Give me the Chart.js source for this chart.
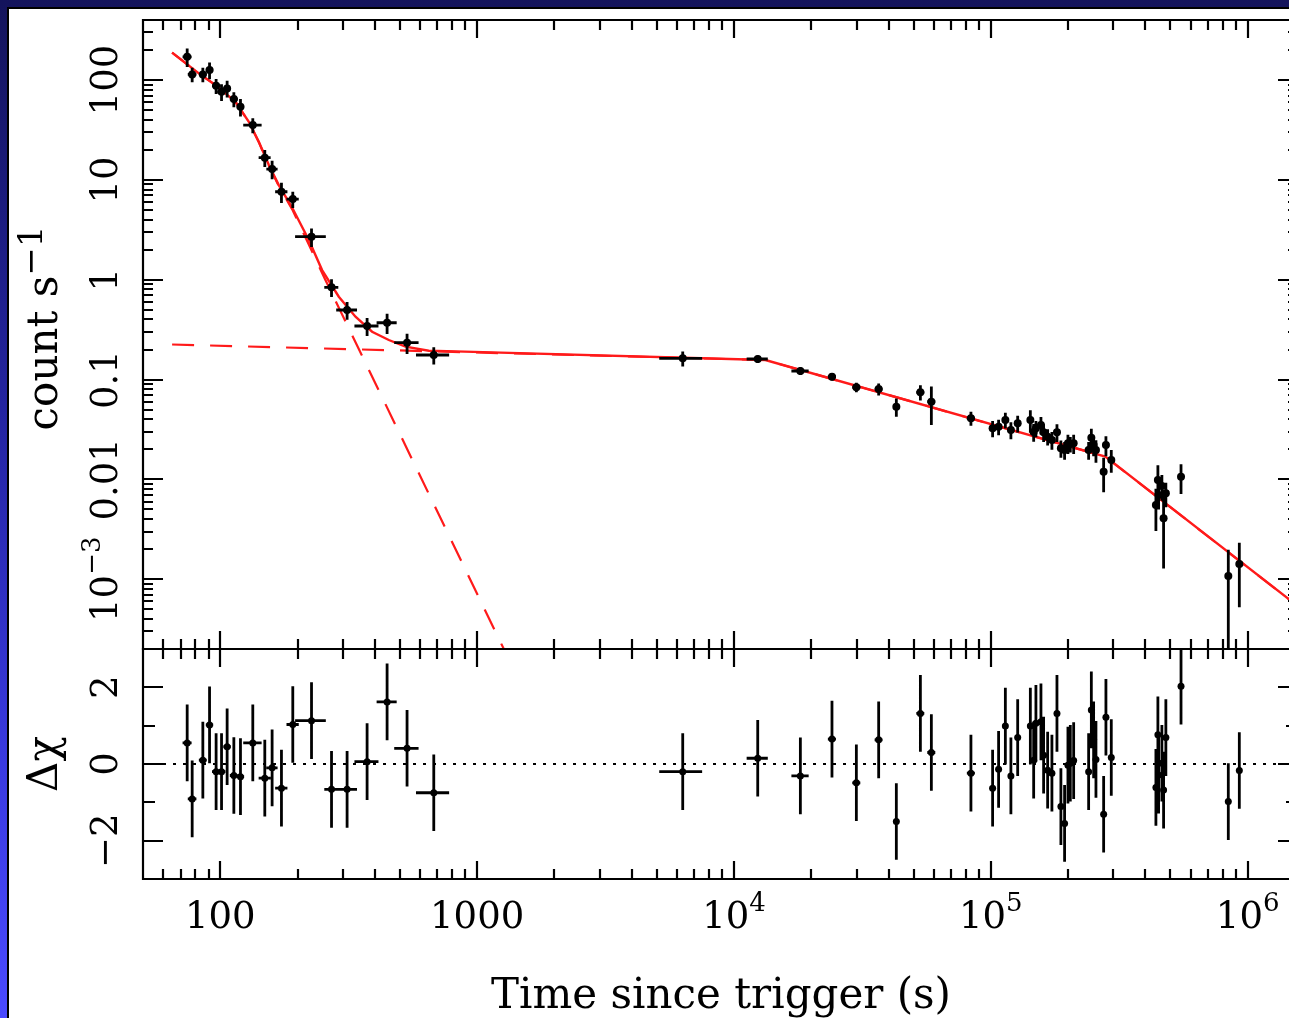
<!DOCTYPE html>
<html>
<head>
<meta charset="utf-8">
<script src="https://cdn.jsdelivr.net/npm/chart.js@4"></script>
<style>
html,body{margin:0;padding:0;width:1289px;height:1018px;overflow:hidden;
  background:linear-gradient(to bottom,#14145c 0%,#2424a0 40%,#3a3ae0 75%,#4a4aff 100%);}
#paper{position:absolute;left:7px;top:7px;width:1320px;height:1040px;background:#fff;
  border-left:2px solid #000;border-top:2px solid #000;}
canvas{position:absolute;left:0;top:0;}
</style>
</head>
<body>
<div id="paper"></div>
<canvas id="topChart" width="1310" height="1018"></canvas>
<canvas id="botChart" width="1310" height="1018"></canvas>
<script>
// ---------------- DATA ----------------
const time = [74.3, 77.7, 85.5, 90.8, 96.3, 101.1, 106.3, 112.9, 119.8, 133.8, 149.0, 159.1, 173.0, 191.5, 226.5, 271.0, 311.6, 372.8, 446.0, 533.4, 677.8,
  6315, 12370, 18130, 24070, 29950, 36580, 42860, 53170, 58670, 83650,
  101600, 107200, 113900, 119700, 127200, 142500, 146800, 149800, 156700, 160500, 166400, 172900, 180900, 187400, 193700, 199600, 203900, 210100, 240300, 246200, 251300, 256600, 274900, 280600, 294400,
  439200, 447100, 449900, 463400, 470500, 480200, 550100, 840500, 927800];
const timeErr = [3, 3, 3, 3, 3.5, 3.5, 3.5, 4, 4, 11, 8, 8, 9.5, 10.5, 31, 17, 29, 40, 40, 58, 100,
  1200, 1170, 1400, 870, 1080, 1300, 1000, 1900, 2100, 3000,
  2500, 2500, 2500, 2500, 2500, 3000, 3000, 3000, 3000, 3000, 3000, 3500, 3500, 3500, 3500, 3500, 3500, 4000, 4500, 4500, 4500, 4500, 5000, 5000, 5000,
  5000, 5000, 5000, 5000, 5000, 5000, 6000, 9000, 9000];
const flux = [171.1, 114.0, 114.0, 126.0, 87.7, 76.3, 82.6, 64.5, 54.0, 35.4, 16.7, 12.85, 7.61, 6.43, 2.70, 0.840, 0.4975, 0.344, 0.371, 0.234, 0.1762,
  0.1633, 0.1607, 0.1219, 0.1068, 0.0837, 0.0804, 0.0535, 0.0746, 0.0600, 0.0410,
  0.0325, 0.0337, 0.0394, 0.0313, 0.0365, 0.0394, 0.0299, 0.0325, 0.0351, 0.0297, 0.0268, 0.0248, 0.0297, 0.0205, 0.0197, 0.0230, 0.0226, 0.0230, 0.0197, 0.0262, 0.0221, 0.0197, 0.01195, 0.0221, 0.01566,
  0.00555, 0.00987, 0.00699, 0.0086, 0.00408, 0.00726, 0.01065, 0.001079, 0.001423];
const fluxErr = [36, 19, 19, 24, 15, 14.5, 15.7, 11, 10.8, 6, 3.2, 2.7, 1.75, 1.2, 0.57, 0.17, 0.1, 0.07, 0.085, 0.054, 0.035,
  0.028, 0.014, 0.011, 0.009, 0.009, 0.011, 0.011, 0.013, 0.025, 0.0065,
  0.006, 0.006, 0.007, 0.006, 0.007, 0.010, 0.006, 0.006, 0.007, 0.006, 0.005, 0.005, 0.006, 0.004, 0.004, 0.005, 0.004, 0.005, 0.004, 0.006, 0.005, 0.005, 0.0045, 0.005, 0.004,
  0.0025, 0.004, 0.002, 0.0025, 0.0028, 0.002, 0.0035, 0.0009, 0.0009];
const resid = [0.55, -0.91, 0.10, 1.02, -0.20, -0.20, 0.45, -0.30, -0.33, 0.55, -0.37, -0.10, -0.63, 1.03, 1.13, -0.66, -0.66, 0.06, 1.62, 0.41, -0.75,
  -0.20, 0.15, -0.31, 0.65, -0.49, 0.63, -1.50, 1.32, 0.30, -0.24,
  -0.63, -0.14, 0.99, -0.31, 0.69, 0.99, 0.10, 1.06, 1.10, 0.23, -0.16, -0.24, 1.32, -1.11, -1.55, -0.03, 0.02, 0.09, -0.20, 1.41, 0.63, 0.12, -1.31, 1.22, 0.17,
  -0.61, 0.76, -0.29, 0.02, -0.68, 0.69, 2.03, -0.98, -0.17];
const residErr = 1; // Δχ error bars are one sigma by definition

// model curves (total, plateau component, steep component)
const modelTime = [64.9, 82.5, 95.8, 114.6, 129.1, 141.2, 154.5, 168.9, 190.3, 221.1, 249.0, 289.3, 336.0, 389.9, 452.9, 526.0, 648.0, 823.2, 13250, 279100, 1.6e6];
const modelFlux = [188.6, 116.7, 89.1, 60.6, 38.2, 24.1, 14.1, 8.88, 5.29, 2.50, 1.25, 0.676, 0.426, 0.3017, 0.249, 0.2134, 0.1946, 0.1915, 0.157, 0.01689, 5.15e-4];
const plateauTime = [64.9, 13250, 279100, 1.6e6];
const plateauFlux = [0.2245, 0.157, 0.01689, 5.15e-4];
const steepTime = [64.9, 82.5, 95.8, 114.6, 129.1, 141.2, 154.5, 168.9, 190.3, 221.1, 256.8, 1452];
const steepFlux = [188.4, 116.5, 88.9, 60.4, 38.0, 23.9, 13.9, 8.7, 5.1, 2.25, 0.99, 9.8e-5];

// axes
const xMin = 50, xMax = 1.57e6;
const yMin = 2e-4, yMax = 400;
const rMin = -3, rMax = 3;
const yTickText = [['100', null, 100], ['10', null, 10], ['1', null, 1], ['0.1', null, 0.1], ['0.01', null, 0.01], ['10', '\u22123', 1e-3]];
const xTickText = [['100', null, 100], ['1000', null, 1000], ['10', '4', 1e4], ['10', '5', 1e5], ['10', '6', 1e6]];
const rTickText = [['2', 2], ['0', 0], ['\u22122', -2]];
const xTitle = 'Time since trigger (s)';
const yTitle = ['count s', '\u22121'];
const rTitle = '\u0394\u03c7';

// ---------------- LAYOUT ----------------
const W = 1310, H = 1018;
const LEFT = 143, RIGHT = 1298, TOP = 20, MID = 649, BOTTOM = 879;
const FONT = '"DejaVu Serif", "Liberation Serif", serif';
const TICK_PX = 37, TITLE_PX = 42;
const RED = '#ff1a1a';

function pts(xs, ys) { return xs.map((x, i) => ({ x: x, y: ys[i] })); }

function errPlugin(yVals, yErrs) {
  return {
    id: 'errBars',
    beforeDatasetDraw(chart, args) {
      if (chart.data.datasets[args.index].label !== 'data') return;
      const ctx = chart.ctx, xs = chart.scales.x, ys = chart.scales.y, a = chart.chartArea;
      ctx.save();
      ctx.beginPath(); ctx.rect(a.left, a.top, a.right - a.left, a.bottom - a.top); ctx.clip();
      ctx.strokeStyle = '#000'; ctx.lineWidth = 2.8; ctx.lineCap = 'butt';
      ctx.beginPath();
      for (let i = 0; i < time.length; i++) {
        const e = Array.isArray(yErrs) ? yErrs[i] : yErrs;
        const px = xs.getPixelForValue(time[i]);
        const py = ys.getPixelForValue(yVals[i]);
        const lo = yVals[i] - e;
        const pyLo = (ys.type === 'logarithmic' && lo <= 0) ? a.bottom + 50 : ys.getPixelForValue(lo);
        const pyHi = ys.getPixelForValue(yVals[i] + e);
        ctx.moveTo(px, pyLo); ctx.lineTo(px, pyHi);
        const x1 = xs.getPixelForValue(time[i] - timeErr[i]);
        const x2 = xs.getPixelForValue(time[i] + timeErr[i]);
        ctx.moveTo(x1, py); ctx.lineTo(x2, py);
      }
      ctx.stroke();
      ctx.restore();
    }
  };
}

function drawParts(ctx, x, y, parts, rotate) {
  // parts: [text, sizePx, rise]
  ctx.save();
  ctx.translate(x, y);
  if (rotate) ctx.rotate(-Math.PI / 2);
  let total = 0;
  const widths = parts.map(p => { ctx.font = p[1] + 'px ' + FONT; const w = ctx.measureText(p[0]).width; total += w; return w; });
  let cur = -total / 2;
  ctx.textAlign = 'left'; ctx.textBaseline = 'alphabetic'; ctx.fillStyle = '#000';
  parts.forEach((p, i) => { ctx.font = p[1] + 'px ' + FONT; ctx.fillText(p[0], cur, -p[2]); cur += widths[i]; });
  ctx.restore();
}

function xTicks(ctx, xs, yEdge, dir) {
  for (let d = 1; d <= 7; d++) for (let m = 1; m <= 9; m++) {
    const v = m * Math.pow(10, d);
    if (v <= xMin || v >= xMax) continue;
    const px = Math.round(xs.getPixelForValue(v));
    const len = m === 1 ? 18 : 10;
    ctx.moveTo(px, yEdge); ctx.lineTo(px, yEdge + dir * len);
  }
}

const framePlugin = {
  id: 'frame',
  afterDraw(chart) {
    const ctx = chart.ctx, a = chart.chartArea, xs = chart.scales.x, ys = chart.scales.y;
    const isTop = chart.canvas.id === 'topChart';
    ctx.save();
    ctx.strokeStyle = '#000'; ctx.lineWidth = 2.2; ctx.lineCap = 'butt';
    ctx.beginPath();
    ctx.rect(a.left, a.top, a.right - a.left, a.bottom - a.top);
    xTicks(ctx, xs, a.top, 1);
    xTicks(ctx, xs, a.bottom, -1);
    if (isTop) {
      for (let d = -5; d <= 3; d++) for (let m = 1; m <= 9; m++) {
        const v = m * Math.pow(10, d);
        if (v <= yMin || v >= yMax) continue;
        const py = Math.round(ys.getPixelForValue(v));
        const len = m === 1 ? 20 : 10;
        ctx.moveTo(a.left, py); ctx.lineTo(a.left + len, py);
        ctx.moveTo(a.right, py); ctx.lineTo(a.right - len, py);
      }
    } else {
      for (let v = rMin + 1; v <= rMax - 1; v++) {
        const py = Math.round(ys.getPixelForValue(v));
        const len = v % 2 === 0 ? 20 : 12;
        ctx.moveTo(a.left, py); ctx.lineTo(a.left + len, py);
        ctx.moveTo(a.right, py); ctx.lineTo(a.right - len, py);
      }
    }
    ctx.stroke();

    if (isTop) {
      yTickText.forEach(t => {
        const py = ys.getPixelForValue(t[2]);
        const parts = [[t[0], TICK_PX, 0]];
        if (t[1]) parts.push([t[1], 26, 17]);
        drawParts(ctx, 117, py, parts, true);
      });
      drawParts(ctx, 57, 328, [[yTitle[0], TITLE_PX, 0], [yTitle[1], 34, 15]], true);
    } else {
      ctx.save();
      ctx.setLineDash([3, 7]); ctx.lineWidth = 2.2;
      const pz = ys.getPixelForValue(0);
      ctx.beginPath(); ctx.moveTo(a.left, pz); ctx.lineTo(a.right, pz); ctx.stroke();
      ctx.restore();
      rTickText.forEach(t => drawParts(ctx, 117, ys.getPixelForValue(t[1]), [[t[0], TICK_PX, 0]], true));
      drawParts(ctx, 57, ys.getPixelForValue(0), [[rTitle, TITLE_PX, 0]], true);
      xTickText.forEach(t => {
        const px = xs.getPixelForValue(t[2]);
        const parts = [[t[0], TICK_PX, 0]];
        if (t[1]) parts.push([t[1], 26, 17]);
        drawParts(ctx, px, 928, parts, false);
      });
      drawParts(ctx, 721, 1008, [[xTitle, TITLE_PX, 0]], false);
    }
    ctx.restore();
  }
};

const common = {
  responsive: false, maintainAspectRatio: false, animation: false, devicePixelRatio: 1,
  plugins: { legend: { display: false }, tooltip: { enabled: false } },
  events: []
};

new Chart(document.getElementById('topChart'), {
  type: 'scatter',
  data: {
    datasets: [
      { label: 'data', data: pts(time, flux), pointRadius: 4, pointBackgroundColor: '#000', pointBorderColor: '#000', pointBorderWidth: 0, showLine: false, order: 0 },
      { label: 'model', type: 'line', data: pts(modelTime, modelFlux), borderColor: RED, borderWidth: 2.4, pointRadius: 0, tension: 0, fill: false, order: 1 },
      { label: 'plateau', type: 'line', data: pts(plateauTime, plateauFlux), borderColor: RED, borderWidth: 2.2, borderDash: [22, 16], pointRadius: 0, tension: 0, fill: false, order: 2 },
      { label: 'steep', type: 'line', data: pts(steepTime, steepFlux), borderColor: RED, borderWidth: 2.2, borderDash: [22, 16], pointRadius: 0, tension: 0, fill: false, order: 3 }
    ]
  },
  options: Object.assign({}, common, {
    layout: { padding: { left: LEFT, right: W - RIGHT, top: TOP, bottom: H - MID } },
    scales: {
      x: { type: 'logarithmic', min: xMin, max: xMax, display: false },
      y: { type: 'logarithmic', min: yMin, max: yMax, display: false }
    }
  }),
  plugins: [errPlugin(flux, fluxErr), framePlugin]
});

new Chart(document.getElementById('botChart'), {
  type: 'scatter',
  data: {
    datasets: [
      { label: 'data', data: pts(time, resid), pointRadius: 3.5, pointBackgroundColor: '#000', pointBorderColor: '#000', pointBorderWidth: 0, showLine: false, order: 0 }
    ]
  },
  options: Object.assign({}, common, {
    layout: { padding: { left: LEFT, right: W - RIGHT, top: MID, bottom: H - BOTTOM } },
    scales: {
      x: { type: 'logarithmic', min: xMin, max: xMax, display: false },
      y: { type: 'linear', min: rMin, max: rMax, display: false }
    }
  }),
  plugins: [errPlugin(resid, residErr), framePlugin]
});
</script>
</body>
</html>
